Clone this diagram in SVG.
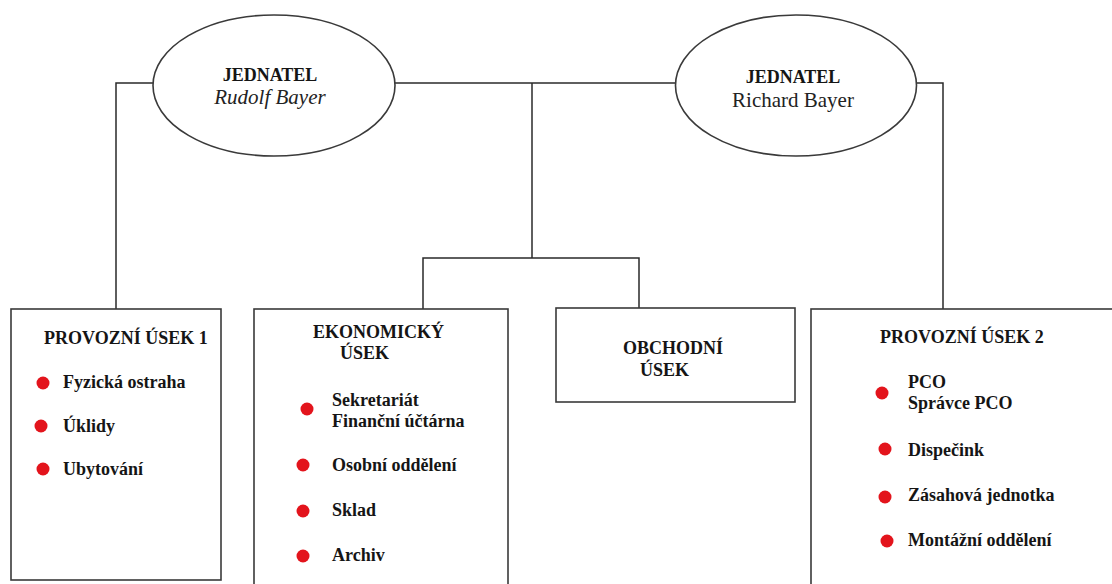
<svg xmlns="http://www.w3.org/2000/svg" width="1112" height="584" viewBox="0 0 1112 584">
<defs>
<circle id="dot" r="6.5" fill="#e3141c"/>
</defs>
<rect x="0" y="0" width="1112" height="584" fill="#ffffff"/>
<g id="connectors" fill="none" stroke="#2a2a2a" stroke-width="1.5">
<path d="M116 309 V83 H153"/>
<path d="M395 83 H676"/>
<path d="M917 83 H943 V309"/>
<path d="M532 83 V258"/>
<path d="M423 309 V258 H639 V308"/>
</g>
<g id="jednatel1">
<ellipse cx="274" cy="85.5" rx="121" ry="70.5" fill="#ffffff" stroke="#3a3a3a" stroke-width="1.6"/>
<text font-family="Liberation Serif" font-weight="bold" font-size="18" fill="#151515" x="270" y="81" text-anchor="middle">JEDNATEL</text>
<text font-family="Liberation Serif" font-style="italic" font-size="21" fill="#222222" x="270" y="104" text-anchor="middle">Rudolf Bayer</text>
</g>
<g id="jednatel2">
<ellipse cx="796" cy="85.5" rx="120.5" ry="70.5" fill="#ffffff" stroke="#3a3a3a" stroke-width="1.6"/>
<text font-family="Liberation Serif" font-weight="bold" font-size="18" fill="#151515" x="793" y="83" text-anchor="middle">JEDNATEL</text>
<text font-family="Liberation Serif" font-size="21" fill="#222222" x="793" y="107" text-anchor="middle">Richard Bayer</text>
</g>
<g id="provozni1">
<rect x="11" y="309" width="210" height="271" fill="#ffffff" stroke="#3a3a3a" stroke-width="1.6"/>
<text font-family="Liberation Serif" font-weight="bold" font-size="18" fill="#151515" x="44" y="344">PROVOZNÍ ÚSEK 1</text>
<use href="#dot" x="43" y="383"/>
<text font-family="Liberation Serif" font-weight="bold" font-size="18" fill="#151515" x="63" y="388">Fyzická ostraha</text>
<use href="#dot" x="41" y="426"/>
<text font-family="Liberation Serif" font-weight="bold" font-size="18" fill="#151515" x="63" y="432">Úklidy</text>
<use href="#dot" x="43" y="469"/>
<text font-family="Liberation Serif" font-weight="bold" font-size="18" fill="#151515" x="63" y="475">Ubytování</text>
</g>
<g id="ekonomicky">
<rect x="254" y="309" width="254" height="300" fill="#ffffff" stroke="#3a3a3a" stroke-width="1.6"/>
<text font-family="Liberation Serif" font-weight="bold" font-size="18" fill="#151515" x="313" y="338">EKONOMICKÝ</text>
<text font-family="Liberation Serif" font-weight="bold" font-size="18" fill="#151515" x="340" y="359">ÚSEK</text>
<use href="#dot" x="307" y="409"/>
<text font-family="Liberation Serif" font-weight="bold" font-size="18" fill="#151515" x="332" y="406">Sekretariát</text>
<text font-family="Liberation Serif" font-weight="bold" font-size="18" fill="#151515" x="332" y="427">Finanční účtárna</text>
<use href="#dot" x="303" y="465"/>
<text font-family="Liberation Serif" font-weight="bold" font-size="18" fill="#151515" x="332" y="471">Osobní oddělení</text>
<use href="#dot" x="303" y="511"/>
<text font-family="Liberation Serif" font-weight="bold" font-size="18" fill="#151515" x="332" y="516">Sklad</text>
<use href="#dot" x="303" y="556"/>
<text font-family="Liberation Serif" font-weight="bold" font-size="18" fill="#151515" x="332" y="561">Archiv</text>
</g>
<g id="obchodni">
<rect x="556" y="308" width="239" height="94" fill="#ffffff" stroke="#3a3a3a" stroke-width="1.6"/>
<text font-family="Liberation Serif" font-weight="bold" font-size="18" fill="#151515" x="623" y="354">OBCHODNÍ</text>
<text font-family="Liberation Serif" font-weight="bold" font-size="18" fill="#151515" x="640" y="376">ÚSEK</text>
</g>
<g id="provozni2">
<rect x="811" y="309" width="310" height="300" fill="#ffffff" stroke="#3a3a3a" stroke-width="1.6"/>
<text font-family="Liberation Serif" font-weight="bold" font-size="18" fill="#151515" x="880" y="343">PROVOZNÍ ÚSEK 2</text>
<use href="#dot" x="882" y="393"/>
<text font-family="Liberation Serif" font-weight="bold" font-size="18" fill="#151515" x="908" y="388">PCO</text>
<text font-family="Liberation Serif" font-weight="bold" font-size="18" fill="#151515" x="908" y="409">Správce PCO</text>
<use href="#dot" x="885" y="449"/>
<text font-family="Liberation Serif" font-weight="bold" font-size="18" fill="#151515" x="908" y="456">Dispečink</text>
<use href="#dot" x="885" y="497"/>
<text font-family="Liberation Serif" font-weight="bold" font-size="18" fill="#151515" x="908" y="501">Zásahová jednotka</text>
<use href="#dot" x="887" y="541"/>
<text font-family="Liberation Serif" font-weight="bold" font-size="18" fill="#151515" x="908" y="546">Montážní oddělení</text>
</g>
</svg>
